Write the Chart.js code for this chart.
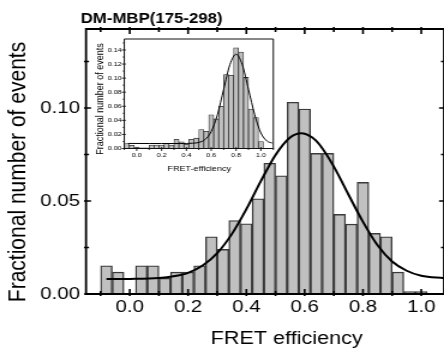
<!DOCTYPE html>
<html>
<head>
<meta charset="utf-8">
<script src="https://cdn.jsdelivr.net/npm/chart.js@4.4.1/dist/chart.umd.min.js"></script>
<style>
html,body{margin:0;padding:0;background:#fff;}
#wrap{position:relative;width:444px;height:349px;overflow:hidden;background:#fff;}
#wrap canvas{position:absolute;left:0;top:0;width:444px !important;height:349px !important;}
</style>
</head>
<body>
<div id="wrap">
<canvas id="main" width="370" height="349"></canvas>
<canvas id="inset" width="370" height="349"></canvas>
</div>
<script>
// ---------------- DATA ----------------
const binCenters = [-0.08,-0.04,0.00,0.04,0.08,0.12,0.16,0.20,0.24,0.28,0.32,0.36,0.40,0.44,0.48,0.52,0.56,0.60,0.64,0.68,0.72,0.76,0.80,0.84,0.88,0.92,0.96,1.00];
const mainFraction = [0.0152,0.0118,0.0000,0.0152,0.0152,0.0085,0.0118,0.0118,0.0152,0.0308,0.0240,0.0395,0.0378,0.0512,0.0703,0.0636,0.1031,0.0995,0.0756,0.0756,0.0428,0.0376,0.0600,0.0326,0.0308,0.0118,0.0013,0.0013];
const mainFitX = [-0.08,0.00,0.10,0.15,0.20,0.25,0.30,0.35,0.40,0.45,0.50,0.55,0.588,0.625,0.65,0.70,0.75,0.80,0.85,0.90,0.95,1.00,1.078];
const mainFitY = [0.0080,0.0081,0.0086,0.0095,0.0114,0.0153,0.0220,0.0322,0.0456,0.0608,0.0748,0.0842,0.0865,0.0843,0.0805,0.0685,0.0535,0.0388,0.0262,0.0175,0.0125,0.0098,0.0085];

const insetFraction = [0.0070,0.0045,0.0020,0.0010,0.0010,0.0050,0.0050,0.0050,0.0074,0.0050,0.0130,0.0096,0.0060,0.0130,0.0147,0.0270,0.0245,0.0480,0.0420,0.0600,0.1050,0.1040,0.1430,0.1370,0.1010,0.0560,0.0440,0.0100];
const insetFitX = [-0.07,0.10,0.20,0.30,0.40,0.45,0.50,0.55,0.60,0.65,0.70,0.75,0.80,0.85,0.90,0.95,1.00,1.05,1.09];
const insetFitY = [0.0072,0.0071,0.0071,0.0071,0.0072,0.0075,0.0086,0.0127,0.0242,0.0480,0.0840,0.1190,0.1340,0.1190,0.0840,0.0480,0.0220,0.0105,0.0078];

const mainXTicks = [0.0,0.2,0.4,0.6,0.8,1.0];
const mainXMinor = [-0.1,0.1,0.3,0.5,0.7,0.9];
const mainYTicks = [0.00,0.05,0.10];
const mainYMinor = [0.025,0.075,0.125];
const insetXTicks = [0.0,0.2,0.4,0.6,0.8,1.0];
const insetXMinor = [-0.1,0.1,0.3,0.5,0.7,0.9,1.1];
const insetYTicks = [0.00,0.02,0.04,0.06,0.08,0.10,0.12,0.14];
const insetYMinor = [0.01,0.03,0.05,0.07,0.09,0.11,0.13,0.15];

const titleText = 'DM-MBP(175-298)';
const xLabel = 'FRET efficiency';
const yLabel = 'Fractional number of events';
const insetXLabel = 'FRET-efficiency';
const insetYLabel = 'Fractional number of events';

// ---------------- LAYOUT ----------------
const SX = 1.2;            // horizontal stretch of the original figure
const W = 370, H = 349;    // internal canvas size
const FONT = "'Liberation Sans', Arial, Helvetica, sans-serif";
const mainArea = {left: 86/SX, right: 445.5/SX, top: 29, bottom: 294};
const insetArea = {left: 124.3/SX, right: 273.3/SX, top: 39, bottom: 148.5};

function makeFrame(id, cfg) {
  return {
    id: id,
    afterDatasetsDraw(chart) {
      const {ctx, chartArea: a, scales: {x, y}} = chart;
      ctx.save();
      ctx.strokeStyle = cfg.color;
      ctx.lineWidth = cfg.lineWidth;
      ctx.beginPath();
      ctx.rect(a.left, a.top, a.right - a.left, a.bottom - a.top);
      ctx.stroke();
      ctx.beginPath();
      const seg = (x1, y1, x2, y2) => { ctx.moveTo(x1, y1); ctx.lineTo(x2, y2); };
      const tx = (vals, inn, out) => vals.forEach(v => {
        const p = x.getPixelForValue(v);
        if (p < a.left - 0.5 || p > a.right + 0.5) return;
        seg(p, a.bottom + out, p, a.bottom - inn);
        if (cfg.mirror) seg(p, a.top - out, p, a.top + inn);
      });
      const ty = (vals, inn, out) => vals.forEach(v => {
        const p = y.getPixelForValue(v);
        if (p < a.top - 0.5 || p > a.bottom + 0.5) return;
        seg(a.left - out / SX, p, a.left + inn / SX, p);
        if (cfg.mirror) seg(a.right + out / SX, p, a.right - inn / SX, p);
      });
      tx(cfg.xMajor, cfg.majorIn, cfg.majorOut);
      tx(cfg.xMinor, cfg.minorIn, cfg.minorOut);
      ty(cfg.yMajor, cfg.majorIn, cfg.majorOut);
      ty(cfg.yMinor, cfg.minorIn, cfg.minorOut);
      ctx.lineWidth = cfg.tickWidth;
      ctx.stroke();
      cfg.texts.forEach(t => {
        ctx.save();
        ctx.font = t.font;
        ctx.fillStyle = '#000';
        ctx.textAlign = t.align || 'center';
        ctx.textBaseline = t.baseline || 'middle';
        ctx.translate(t.x, t.y);
        if (t.rot) ctx.rotate(t.rot);
        ctx.fillText(t.text, 0, 0);
        ctx.restore();
      });
      ctx.restore();
    }
  };
}

function buildChart(canvasId, area, xr, yr, fraction, fitX, fitY, xt, yt, fmtY, tickFont, xPad, yPad, style, frame) {
  return new Chart(document.getElementById(canvasId), {
    type: 'bar',
    data: {
      datasets: [
        {
          type: 'line',
          data: fitX.map((v, i) => ({x: v, y: fitY[i]})),
          borderColor: '#000',
          borderWidth: style.lineWidth,
          pointRadius: 0,
          cubicInterpolationMode: 'monotone',
          fill: false,
          order: 0
        },
        {
          type: 'bar',
          data: binCenters.map((c, i) => ({x: c, y: fraction[i]})),
          backgroundColor: '#c0c0c0',
          borderColor: style.barBorder,
          borderWidth: style.barBorderWidth,
          borderSkipped: 'start',
          barPercentage: 1,
          categoryPercentage: 1,
          grouped: false,
          order: 1
        }
      ]
    },
    options: {
      responsive: false,
      animation: false,
      devicePixelRatio: 1,
      events: [],
      layout: {padding: {left: 0, right: W - area.right, top: area.top, bottom: 0}},
      plugins: {legend: {display: false}, tooltip: {enabled: false}, title: {display: false}},
      scales: {
        x: {
          type: 'linear', min: xr[0], max: xr[1], offset: false,
          grid: {display: false, drawTicks: false},
          border: {display: false},
          afterBuildTicks: s => { s.ticks = xt.map(v => ({value: v})); },
          afterFit: s => { s.height = H - area.bottom; },
          ticks: {font: {family: FONT, size: tickFont}, color: '#000', padding: xPad, autoSkip: false, maxRotation: 0, minRotation: 0,
                  callback: v => Math.abs(v) < 1e-9 ? '0.0' : v.toFixed(1)}
        },
        y: {
          type: 'linear', min: yr[0], max: yr[1],
          grid: {display: false, drawTicks: false},
          border: {display: false},
          afterBuildTicks: s => { s.ticks = yt.map(v => ({value: v})); },
          afterFit: s => { s.width = area.left; },
          ticks: {font: {family: FONT, size: tickFont}, color: '#000', padding: yPad, autoSkip: false,
                  callback: v => fmtY(v)}
        }
      }
    },
    plugins: [frame]
  });
}

const mainFrame = makeFrame('mainFrame', {
  color: '#000', lineWidth: 1.8, tickWidth: 1.6, mirror: true,
  xMajor: mainXTicks, xMinor: mainXMinor, yMajor: mainYTicks, yMinor: mainYMinor,
  majorIn: 5, majorOut: 2, minorIn: 3, minorOut: 2,
  texts: [
    {text: titleText, font: 'bold 14px ' + FONT, x: 80.7/SX, y: 23, align: 'left', baseline: 'alphabetic'},
    {text: xLabel, font: '18px ' + FONT, x: 286.7/SX, y: 344.3, baseline: 'alphabetic'},
    {text: yLabel, font: '21px ' + FONT, x: 18.3/SX, y: 172, rot: -Math.PI/2}
  ]
});

const insetFrame = makeFrame('insetFrame', {
  color: '#111', lineWidth: 1, tickWidth: 0.9, mirror: false,
  xMajor: insetXTicks, xMinor: insetXMinor, yMajor: insetYTicks, yMinor: insetYMinor,
  majorIn: 1.5, majorOut: 2.5, minorIn: 0.5, minorOut: 1.5,
  texts: [
    {text: insetXLabel, font: '7.5px ' + FONT, x: 199.2/SX, y: 169},
    {text: insetYLabel, font: '9px ' + FONT, x: 100.3/SX, y: 99, rot: -Math.PI/2}
  ]
});

buildChart('main', mainArea, [-0.15, 1.078], [0, 0.1425], mainFraction, mainFitX, mainFitY,
  mainXTicks, mainYTicks, v => v.toFixed(2), 17, 3.3, 5,
  {lineWidth: 2, barBorder: '#3a3a3a', barBorderWidth: 1.4}, mainFrame);

buildChart('inset', insetArea, [-0.1, 1.1], [0, 0.1556], insetFraction, insetFitX, insetFitY,
  insetXTicks, insetYTicks, v => v.toFixed(2), 6, 2.9, 2.2,
  {lineWidth: 1, barBorder: '#333', barBorderWidth: 0.8}, insetFrame);
</script>
</body>
</html>
